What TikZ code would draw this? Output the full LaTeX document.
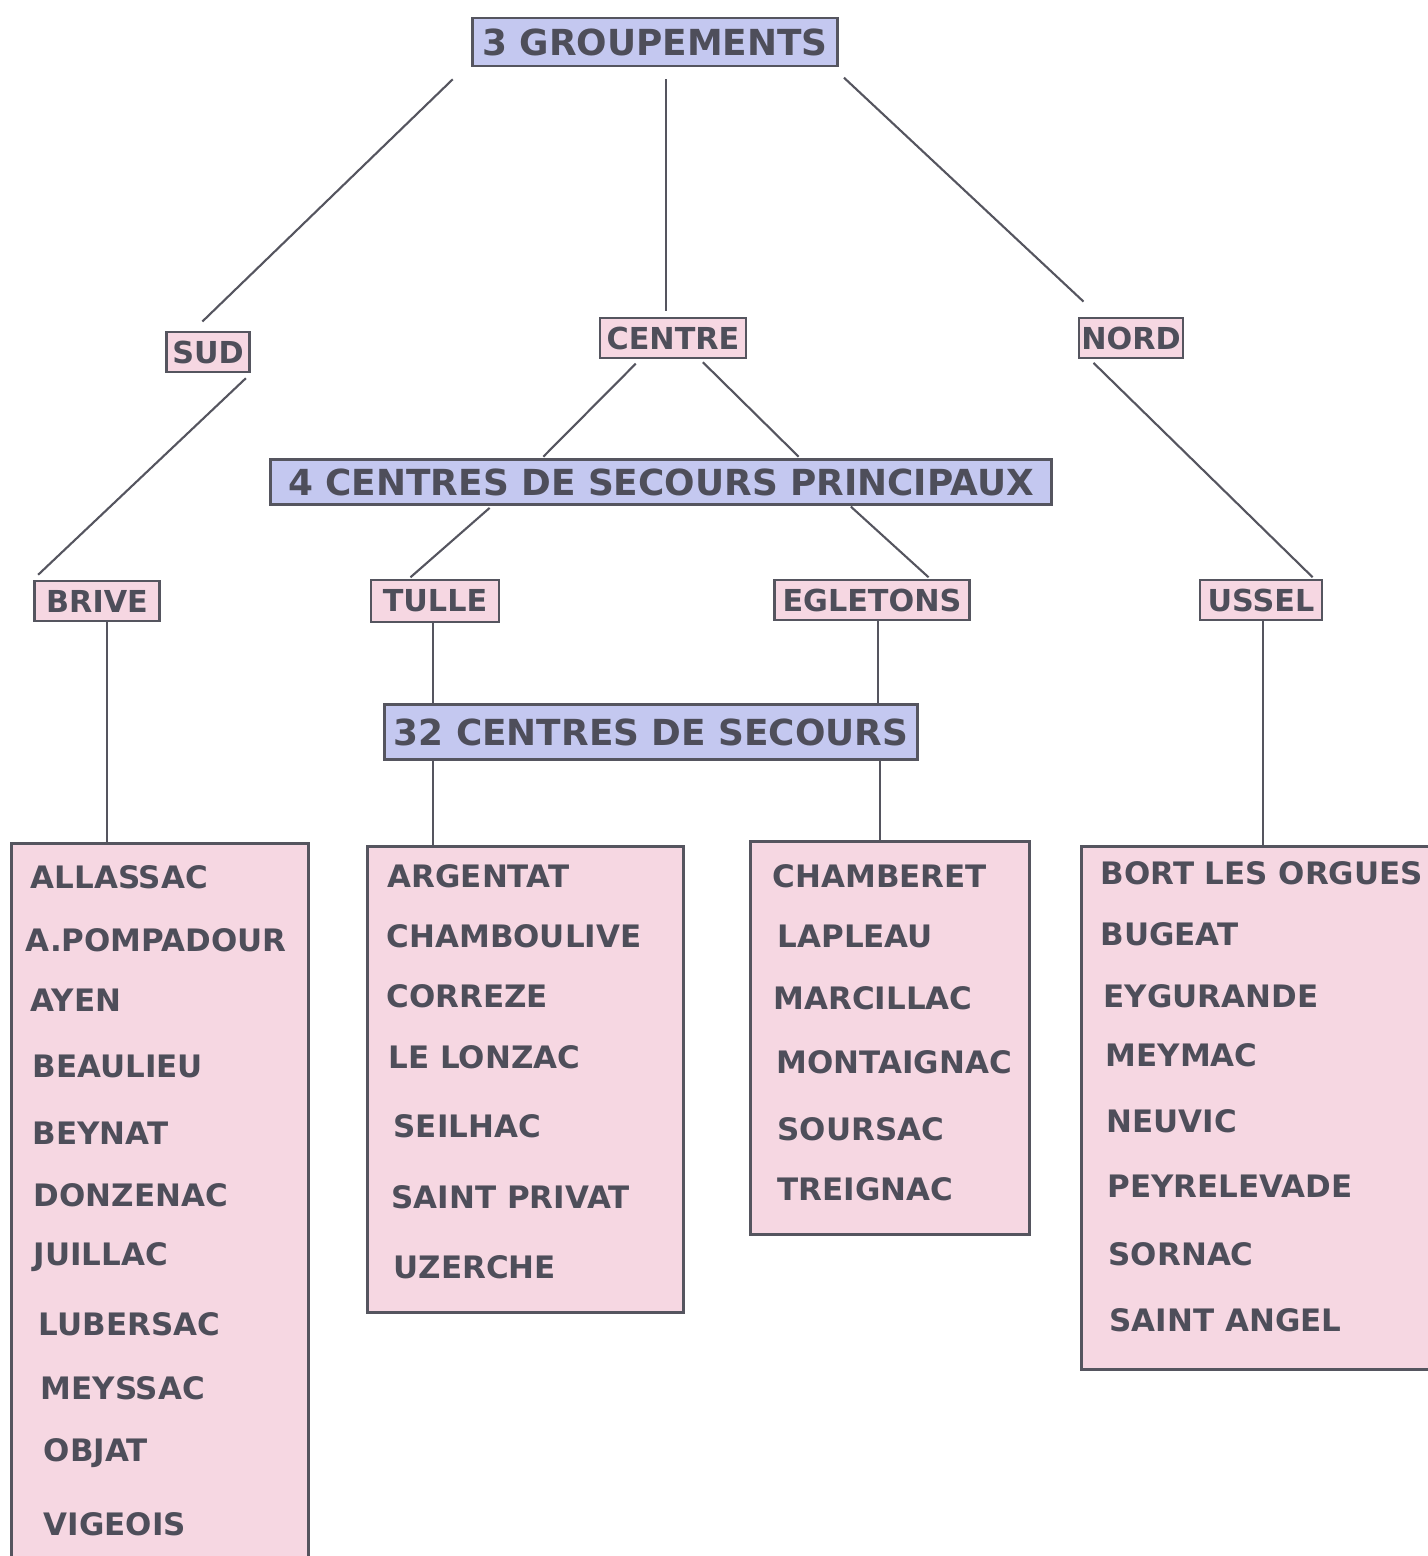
\documentclass[tikz,border=0pt]{standalone}
\usepackage{fontspec}
\newfontfamily\dejavu{DejaVu Sans}
\usetikzlibrary{positioning,calc}
\definecolor{boxblue}{RGB}{196,200,240}
\definecolor{boxpink}{RGB}{246,215,226}
\definecolor{linegray}{RGB}{85,85,95}
\definecolor{textgray}{RGB}{78,78,90}
\tikzset{
  titre/.style={draw=linegray, fill=boxblue, line width=0.8pt, inner sep=0pt, text=textgray, font=\dejavu\bfseries\fontsize{10.2}{12}\selectfont},
  etiquette/.style={draw=linegray, fill=boxpink, line width=0.8pt, inner sep=0pt, minimum height=0.4cm, text=textgray, font=\dejavu\bfseries\fontsize{8.6}{10}\selectfont},
  liste/.style={draw=linegray, fill=boxpink, line width=0.8pt, anchor=north west, inner sep=0pt},
  ville/.style={anchor=west, inner sep=0pt, text=textgray, font=\dejavu\bfseries\fontsize{8.8}{10}\selectfont},
  lien/.style={draw=linegray, line width=0.6pt},
}

\begin{document}
\begin{tikzpicture}[x=0.01cm, y=-0.01cm]
   \useasboundingbox (0,0) rectangle (1428,1556);

   % groupements
   \node[titre, minimum width=3.65cm, minimum height=0.48cm] (grp) at (655,42) {3 GROUPEMENTS};
   \node[etiquette, minimum width=0.83cm] (sud) at (208,352) {SUD};
   \node[etiquette, minimum width=1.46cm] (centre) at (673,338) {CENTRE};
   \node[etiquette, minimum width=1.04cm] (nord) at (1131,338) {NORD};

   % centres principaux
   \node[titre, minimum width=7.81cm, minimum height=0.45cm] (csp) at (661,482) {4 CENTRES DE SECOURS PRINCIPAUX};
   \node[etiquette, minimum width=1.25cm] (brive) at (97,601) {BRIVE};
   \node[etiquette, minimum width=1.28cm, minimum height=0.42cm] (tulle) at (435,601) {TULLE};
   \node[etiquette, minimum width=1.95cm] (egl) at (872,600) {EGLETONS};
   \node[etiquette, minimum width=1.22cm] (ussel) at (1261,600) {USSEL};

   \node[titre, minimum width=5.32cm, minimum height=0.55cm] (scs) at (651,732) {32 CENTRES DE SECOURS};

   % listes
   \node[liste, minimum width=2.97cm, minimum height=7.4cm] (lbrive) at (10,842) {};
   \node[liste, minimum width=3.16cm, minimum height=4.66cm] (ltulle) at (366,845) {};
   \node[liste, minimum width=2.79cm, minimum height=3.93cm] (legl) at (749,840) {};
   \node[liste, minimum width=3.70cm, minimum height=5.23cm] (lussel) at (1080,845) {};

   \foreach \v/\x/\y [count=\i] in {ALLASSAC/30/877, A.POMPADOUR/25/940, AYEN/30/1000, BEAULIEU/32/1066,
         BEYNAT/32/1133, DONZENAC/33/1195, JUILLAC/33/1257, LUBERSAC/38/1324, MEYSSAC/40/1388,
         OBJAT/43/1453, VIGEOIS/43/1524}
      \node[ville] (brive-\i) at (\x,\y) {\v};
   \foreach \v/\x/\y [count=\i] in {ARGENTAT/387/876, CHAMBOULIVE/386/936, CORREZE/386/996,
         LE LONZAC/388/1057, SEILHAC/393/1126, SAINT PRIVAT/391/1197, UZERCHE/393/1267}
      \node[ville] (tulle-\i) at (\x,\y) {\v};
   \foreach \v/\x/\y [count=\i] in {CHAMBERET/772/876, LAPLEAU/777/936, MARCILLAC/773/998,
         MONTAIGNAC/776/1062, SOURSAC/777/1129, TREIGNAC/777/1189}
      \node[ville] (egl-\i) at (\x,\y) {\v};
   \foreach \v/\x/\y [count=\i] in {BORT LES ORGUES/1100/873, BUGEAT/1100/934, EYGURANDE/1103/996,
         MEYMAC/1105/1055, NEUVIC/1106/1121, PEYRELEVADE/1107/1186, SORNAC/1108/1254,
         SAINT ANGEL/1109/1320}
      \node[ville] (ussel-\i) at (\x,\y) {\v};

   % liens
   \draw[lien, shorten <=0.17cm, shorten >=0.13cm] ([xshift=-0.06cm]grp.south west) -- ([xshift=-0.15cm]sud.north);
   \draw[lien, shorten <=0.12cm, shorten >=0.06cm] ([xshift=-0.07cm]centre.north |- grp.south) -- ([xshift=-0.07cm]centre.north);
   \draw[lien, shorten <=0.15cm, shorten >=0.22cm] ([xshift=-0.06cm]grp.south east) -- ([xshift=0.22cm]nord.north west);
   \draw[lien, shorten <=0.07cm, shorten >=0.07cm] (sud.south east) -- (brive.north west);
   \draw[lien, shorten <=0.06cm, shorten >=0.02cm] ([xshift=-0.33cm]centre.south) -- ([xshift=-1.19cm]csp.north);
   \draw[lien, shorten <=0.04cm, shorten >=0.02cm] ([xshift=0.27cm]centre.south) -- ([xshift=1.39cm]csp.north);
   \draw[lien, shorten <=0.05cm, shorten >=0.02cm] ([xshift=-0.41cm]nord.south) -- ([xshift=0.53cm]ussel.north);
   \draw[lien, shorten <=0.03cm, shorten >=0.02cm] ([xshift=-1.69cm]csp.south) -- ([xshift=-0.26cm]tulle.north);
   \draw[lien, shorten <=0.01cm, shorten >=0.02cm] ([xshift=1.89cm]csp.south) -- ([xshift=0.58cm]egl.north);
   \draw[lien] ([xshift=0.1cm]brive.south) -- ([xshift=0.1cm]brive.south |- lbrive.north);
   \draw[lien] ([xshift=-0.02cm]tulle.south) -- ([xshift=-0.02cm]tulle.south |- scs.north);
   \draw[lien] ([xshift=-0.02cm]tulle.south |- scs.south) -- ([xshift=-0.02cm]tulle.south |- ltulle.north);
   \draw[lien] ([xshift=0.06cm]egl.south) -- ([xshift=0.06cm]egl.south |- scs.north);
   \draw[lien] ([xshift=0.08cm]egl.south |- scs.south) -- ([xshift=0.08cm]egl.south |- legl.north);
   \draw[lien] ([xshift=0.02cm]ussel.south) -- ([xshift=0.02cm]ussel.south |- lussel.north);
\end{tikzpicture}
\end{document}
